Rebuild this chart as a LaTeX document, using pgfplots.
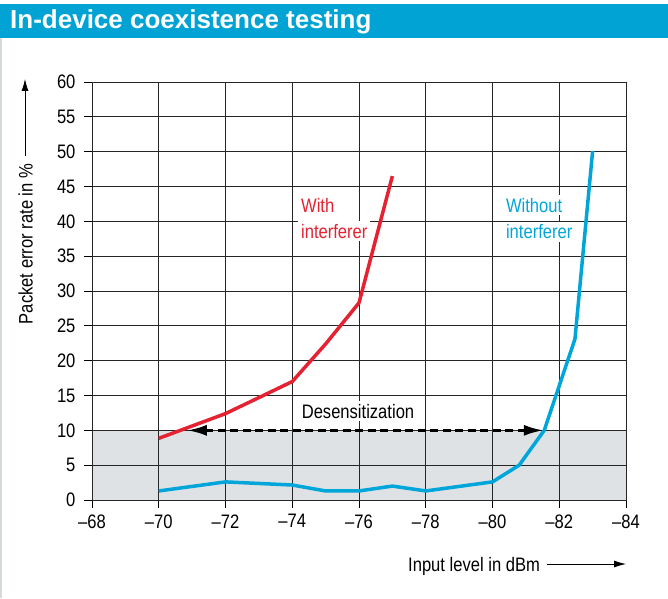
\documentclass[border=0pt]{standalone}
\usepackage{fontspec}
\setmainfont{Liberation Sans}[FakeStretch=0.85]
\newfontfamily\titlefont{Liberation Sans}
\usepackage{pgfplots}
\pgfplotsset{compat=1.18}
\usetikzlibrary{arrows.meta}
\definecolor{titleblue}{HTML}{00A3D3}
\definecolor{lineblue}{HTML}{00A6D9}
\definecolor{linered}{HTML}{E42232}
\definecolor{bandgray}{HTML}{DEE2E5}
\definecolor{framegray}{HTML}{D5DADD}
\newcommand{\lblfont}{\fontsize{19.5}{22}\selectfont}

\begin{document}
\begin{tikzpicture}
\path (0pt,0pt) rectangle (668pt,-598pt);
\fill[titleblue] (0pt,-4pt) rectangle (668pt,-38pt);
\node[anchor=base west, inner sep=0pt, text=white, font=\titlefont\bfseries\fontsize{26}{30}\selectfont] at (10pt,-29pt) {In-device coexistence testing};
\draw[framegray, line width=1.5pt] (0.75pt,-38pt) -- (0.75pt,-598pt);
% axis descriptions
\node[rotate=90, anchor=base, inner sep=0pt, font=\lblfont] at (32.5pt,-244pt) {Packet error rate in \%};
\draw[line width=0.8pt, -{Latex[length=12pt,width=7pt]}] (25pt,-156pt) -- (25pt,-79pt);
\node[anchor=base west, inner sep=0pt, font=\lblfont] at (408pt,-571pt) {Input level in dBm};
\draw[line width=0.8pt, -{Latex[length=12pt,width=7pt]}] (547pt,-564pt) -- (626pt,-564pt);
\begin{axis}[
  set layers,
  at={(92pt,-500pt)}, anchor=south west,
  scale only axis, width=534pt, height=418pt,
  x dir=reverse,
  xmin=-84, xmax=-68, ymin=0, ymax=60,
  xtick={-84,-82,-80,-78,-76,-74,-72,-70,-68},
  xticklabels={\textendash 84,\textendash 82,\textendash 80,\textendash 78,\textendash 76,\textendash 74,\textendash 72,\textendash 70,\textendash 68},
  ytick={0,5,10,15,20,25,30,35,40,45,50,55,60},
  yticklabels={0,5,10,15,20,25,30,35,40,45,50,55,60},
  tick pos=left, tick align=outside, major tick length=8pt,
  grid=major, grid style={black!85, line width=0.9pt},
  axis line style={black!85, line width=0.9pt},
  tick style={black, line width=0.9pt},
  tick label style={font=\lblfont},
  yticklabel style={xshift=-5pt},
  xticklabel style={yshift=-3pt},
]
\addplot[on layer=axis background, fill=bandgray, draw=none] coordinates {(-68,10) (-84,10)} \closedcycle;

\addplot[lineblue, line width=3.5pt, line join=round] coordinates {
(-70,1.3) (-72,2.6) (-74,2.15) (-75,1.3) (-76,1.3) (-77,2.0) (-78,1.3) (-80,2.6) (-80.8,5.0) (-81.55,10) (-82.47,23.1) (-83,50.1)
};
\addplot[linered, line width=3.5pt, line join=round] coordinates {
(-70,8.85) (-72,12.4) (-74,17.0) (-75,22.4) (-76,28.3) (-77,46.5)
};
\addplot[black, line width=3pt, dash pattern=on 8pt off 4.5pt, {Latex[length=20pt,width=11pt]}-{Latex[length=20pt,width=11pt]}] coordinates {(-70.84,10) (-81.54,10)};

\node[anchor=base west, fill=white, inner sep=3pt, text=linered, font=\lblfont] at (axis cs:-74.17,41.2) {With};
\node[anchor=base west, fill=white, inner sep=3pt, text=linered, font=\lblfont] at (axis cs:-74.17,37.6) {interferer};
\node[anchor=base west, fill=white, inner sep=3pt, text=lineblue, font=\lblfont] at (axis cs:-80.31,41.3) {Without};
\node[anchor=base west, fill=white, inner sep=3pt, text=lineblue, font=\lblfont] at (axis cs:-80.31,37.5) {interferer};
\node[anchor=base, fill=white, inner sep=3pt, font=\lblfont] at (axis cs:-75.97,11.77) {Desensitization};
\end{axis}
\end{tikzpicture}
\end{document}
